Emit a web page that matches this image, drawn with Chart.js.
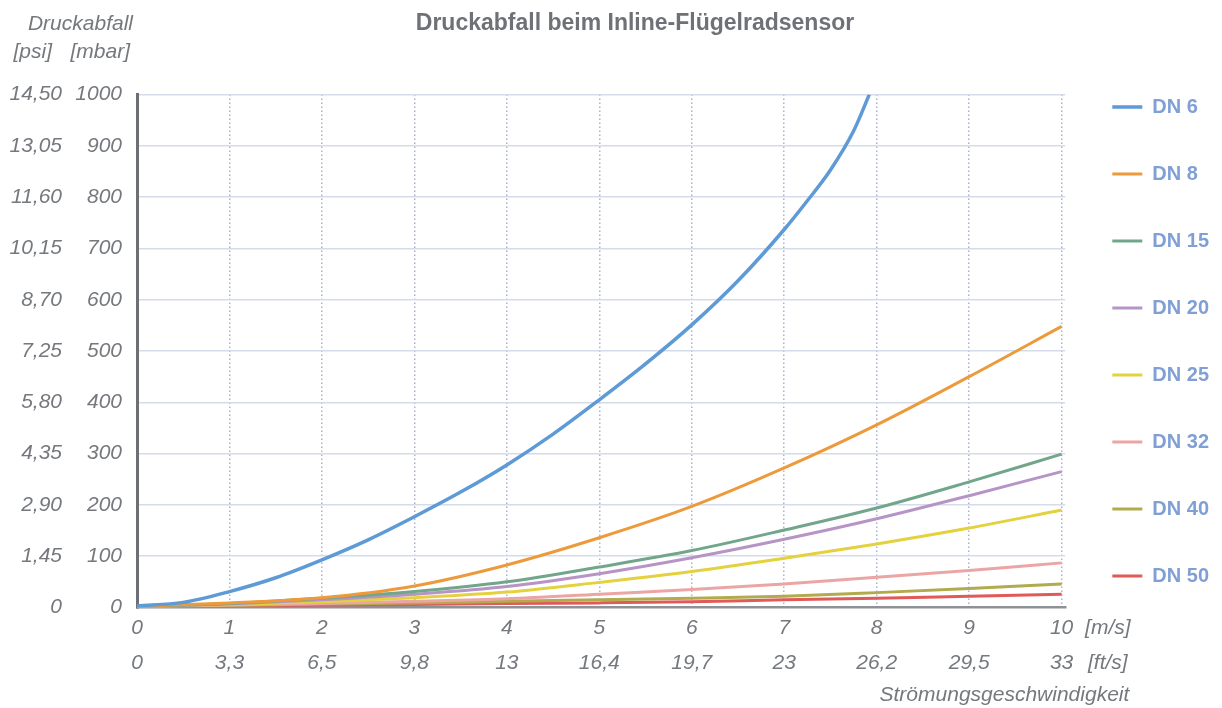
<!DOCTYPE html>
<html>
<head>
<meta charset="utf-8">
<script src="https://cdn.jsdelivr.net/npm/chart.js@4"></script>
<style>
  body { margin: 0; background: #fff; }
</style>
</head>
<body>
<canvas id="pressureDrop" width="1222" height="708"></canvas>
<script>
"use strict";

// Druckabfall beim Inline-Flügelradsensor

const speedMs = [0, 1, 2, 3, 4, 5, 6, 7, 8, 9, 10];
const speedMsLabels = ["0", "1", "2", "3", "4", "5", "6", "7", "8", "9", "10"];
const speedFtLabels = ["0", "3,3", "6,5", "9,8", "13", "16,4", "19,7", "23", "26,2", "29,5", "33"];
const psiLabels = ["0", "1,45", "2,90", "4,35", "5,80", "7,25", "8,70", "10,15", "11,60", "13,05", "14,50"];

const dn6Speed = [0, 0.5, 1, 1.5, 2, 2.5, 3, 3.5, 4, 4.5, 5, 5.5, 6, 6.5, 7, 7.25, 7.5, 7.75, 7.92];
const dn6 = [3, 10, 31, 58, 93, 132, 177, 225, 278, 338, 405, 475, 551, 637, 737, 793, 853, 929, 1000];
const dn8 = [2, 9, 19, 42, 83, 136, 197, 272, 356, 450, 548];
const dn15 = [2, 8, 18, 31, 50, 79, 111, 151, 194, 245, 299];
const dn20 = [2, 7, 15, 26, 41, 66, 97, 133, 173, 218, 265];
const dn25 = [2, 6, 11, 19, 30, 49, 70, 96, 124, 155, 190];
const dn32 = [1, 5, 8, 12, 17, 26, 35, 46, 59, 72, 87];
const dn40 = [1, 4, 7, 9, 12, 15, 18, 22, 29, 37, 46];
const dn50 = [1, 3, 5, 6, 8, 9, 11, 15, 18, 22, 26];

const textGrey = "#75787d";
const italicFont = {family: "Liberation Sans", size: 21, style: "italic"};

function points(xs, ys) {
    return ys.map((y, i) => ({x: xs[i], y: y}));
}

function curve(label, xs, ys, color, width) {
    return {
        label: label,
        data: points(xs, ys),
        borderColor: color,
        backgroundColor: color,
        borderWidth: width,
        pointRadius: 0,
        cubicInterpolationMode: "monotone",
        xAxisID: "x",
        yAxisID: "y"
    };
}

// axis captions that sit outside the scales
const captions = {
    id: "captions",
    afterDraw(chart) {
        const c = chart.ctx;
        const area = chart.chartArea;
        c.save();
        c.fillStyle = textGrey;
        c.font = "italic 21px 'Liberation Sans'";
        c.textBaseline = "middle";
        c.textAlign = "right";
        c.fillText("Druckabfall", area.left - 4, 24);
        c.fillText("[mbar]", area.left - 7, 52);
        c.fillText("[psi]", area.left - 85, 52);
        c.fillText("Strömungsgeschwindigkeit", area.right + 64, 695);
        c.restore();
    }
};

let ctx_drop = document.getElementById("pressureDrop").getContext("2d");

let dropChart = new Chart(ctx_drop, {
    type: "line",
    data: {
        datasets: [
            curve("DN 6", dn6Speed, dn6, "#5d9ad6", 3.5),
            curve("DN 8", speedMs, dn8, "#ec9a3b", 3),
            curve("DN 15", speedMs, dn15, "#72a68b", 3),
            curve("DN 20", speedMs, dn20, "#b694c6", 3),
            curve("DN 25", speedMs, dn25, "#e3d23e", 3),
            curve("DN 32", speedMs, dn32, "#eca5a5", 3),
            curve("DN 40", speedMs, dn40, "#b2ab4e", 3),
            curve("DN 50", speedMs, dn50, "#e05a5a", 3)
        ]
    },
    options: {
        responsive: false,
        animation: false,
        layout: {
            padding: {left: 51, right: 3, top: 0, bottom: 25}
        },
        plugins: {
            title: {
                display: true,
                text: "Druckabfall beim Inline-Flügelradsensor",
                color: "#6e7277",
                font: {family: "Liberation Sans", size: 23, weight: "bold"},
                padding: {top: 10, bottom: 57}
            },
            legend: {
                position: "right",
                align: "center",
                labels: {
                    usePointStyle: true,
                    pointStyle: "line",
                    pointStyleWidth: 30,
                    padding: 47,
                    color: "#7f9fd5",
                    font: {family: "Liberation Sans", size: 20, weight: "bold"}
                }
            },
            tooltip: {enabled: false}
        },
        scales: {
            x: {
                type: "linear",
                position: "bottom",
                min: 0,
                max: 10.04,
                afterBuildTicks: (scale) => {
                    scale.ticks = speedMs.concat([10.5]).map(v => ({value: v}));
                },
                afterFit: (scale) => { scale.height = 33; },
                ticks: {
                    autoSkip: false,
                    maxRotation: 0,
                    padding: 8,
                    color: textGrey,
                    font: italicFont,
                    callback: (value, index) => index < speedMsLabels.length ? speedMsLabels[index] : "[m/s]"
                },
                grid: {
                    drawTicks: false,
                    lineWidth: 1.5,
                    color: (c) => (c.tick && c.tick.value > 0 && c.tick.value <= 10) ? "#a9b3d8" : "rgba(0,0,0,0)"
                },
                border: {
                    color: "#8e9196",
                    width: 2.5,
                    dash: [1.5, 2.5]
                }
            },
            x2: {
                type: "linear",
                position: "bottom",
                min: 0,
                max: 10.04,
                afterBuildTicks: (scale) => {
                    scale.ticks = speedMs.concat([10.5]).map(v => ({value: v}));
                },
                afterFit: (scale) => { scale.height = 42.5; },
                ticks: {
                    autoSkip: false,
                    maxRotation: 0,
                    padding: 10.4,
                    color: textGrey,
                    font: italicFont,
                    callback: (value, index) => index < speedFtLabels.length ? speedFtLabels[index] : "[ft/s]"
                },
                grid: {display: false, drawTicks: false},
                border: {display: false}
            },
            y: {
                type: "linear",
                position: "left",
                weight: 0,
                min: 0,
                max: 1000,
                afterFit: (scale) => { scale.width = 86; },
                ticks: {
                    stepSize: 100,
                    padding: 15,
                    color: textGrey,
                    font: italicFont,
                    callback: (value) => String(value)
                },
                grid: {
                    drawTicks: false,
                    lineWidth: 1.5,
                    color: (c) => (c.tick && c.tick.value === 0) ? "rgba(0,0,0,0)" : "#d5dbe8"
                },
                border: {
                    color: "#6c6f74",
                    width: 3
                }
            },
            psi: {
                type: "linear",
                position: "left",
                weight: 1,
                min: 0,
                max: 1000,
                afterFit: (scale) => { scale.width = 0; },
                ticks: {
                    stepSize: 100,
                    mirror: true,
                    crossAlign: "far",
                    padding: -41.5,
                    color: textGrey,
                    font: italicFont,
                    callback: (value) => psiLabels[Math.round(value / 100)]
                },
                grid: {display: false, drawTicks: false},
                border: {display: false}
            }
        }
    },
    plugins: [captions]
});
</script>
</body>
</html>
